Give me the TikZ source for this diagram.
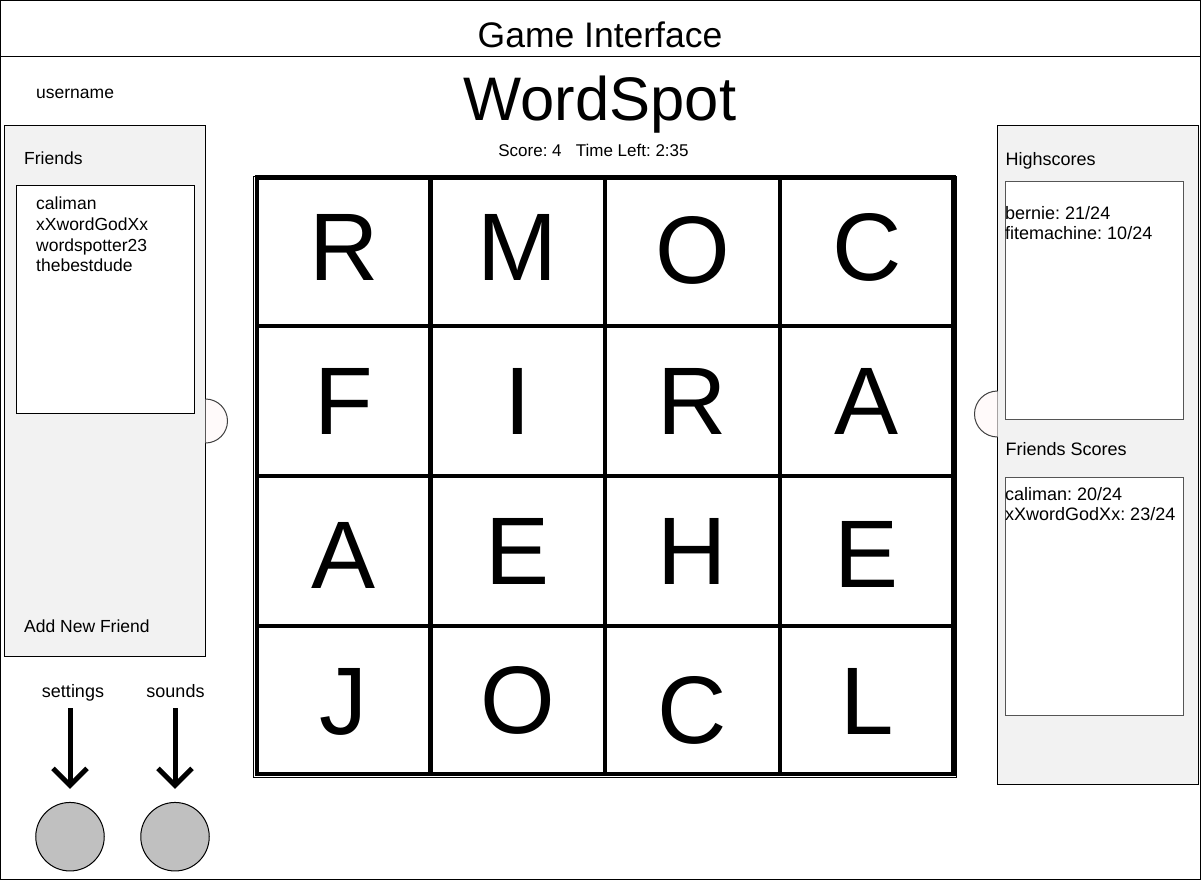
\documentclass[tikz,border=0pt]{standalone}
\usepackage{fontspec}
\setmainfont{Liberation Sans}
\usetikzlibrary{arrows.meta}
\definecolor{panelgray}{HTML}{F2F2F2}
\definecolor{btngray}{HTML}{C0C0C0}
\definecolor{tabfill}{HTML}{FFFAFA}
\definecolor{tabline}{HTML}{404040}
\definecolor{boxline}{HTML}{555555}
\tikzset{
  lbl/.style={font=\fontsize{17.5}{20}\selectfont, inner sep=0pt, anchor=base west},
  lblr/.style={font=\fontsize{18}{21}\selectfont, inner sep=0pt, anchor=base west},
  lblc/.style={font=\fontsize{18}{21}\selectfont, inner sep=0pt, anchor=base},
  frameline/.style={draw=black, line width=1pt},
  panel/.style={draw=black, fill=panelgray, line width=1pt},
  listbox/.style={draw=black, fill=white, line width=1pt},
  listboxr/.style={draw=boxline, fill=white, line width=1pt},
  cellline/.style={draw=black, line width=4.5pt},
  letter/.style={font=\fontsize{96}{110}\selectfont, inner sep=0pt, anchor=base},
  btn/.style={circle, draw=black, fill=btngray, minimum size=68.5pt, inner sep=0pt, line width=1pt},
  arrshaft/.style={draw=black, line width=5pt},
  arrhead/.style={draw=black, line width=5pt, line join=miter},
  tabshape/.style={draw=tabline, line width=1pt},
}
\begin{document}
\frenchspacing
\begin{tikzpicture}[x=1pt,y=-1pt]
\useasboundingbox (0,0) rectangle (1201,880);
\fill[white] (0,0) rectangle (1201,880);
% outer frame and header
\draw[frameline] (0.5,0.5) rectangle (1200.5,879.5);
\draw[frameline] (0.5,57) -- (1200.5,57);
\node[font=\fontsize{35.5}{40}\selectfont, inner sep=0pt, anchor=base] (title) at (600,47.3) {Game Interface};

% header texts
\node[lbl] (username) at (36,98.5) {username};
\node[font=\fontsize{61.5}{68}\selectfont, inner sep=0pt, anchor=base] (wordspot) at (600,120.5) {WordSpot};
\node[font=\fontsize{17}{20}\selectfont, inner sep=0pt, anchor=base] (score) at (593.5,156.7) {Score: 4\ \ \ Time Left: 2:35};

% left panel
\draw[panel] (4.5,125.5) rectangle (205.5,656);
\fill[tabfill] (205.5,399) arc[start angle=90,end angle=-90,radius=22pt] -- cycle;
\draw[tabshape] (205.5,399) arc[start angle=90,end angle=-90,radius=22pt];
\node[lbl] (friends) at (24,164) {Friends};
\draw[listbox] (16.5,185.5) rectangle (194.5,413);
\node[lbl] (f1) at (36,209.3) {caliman};
\node[lbl] (f2) at (36,230.2) {xXwordGodXx};
\node[lbl] (f3) at (36,251) {wordspotter23};
\node[lbl] (f4) at (36,271.8) {thebestdude};
\node[lbl] (addfriend) at (24,632.7) {Add New Friend};

% settings / sounds
\node[lblc] (settings) at (73,697.7) {settings};
\node[lblc] (sounds) at (175.5,697.7) {sounds};
\node[btn] (setbtn) at (70,836.7) {};
\node[btn] (sndbtn) at (175,836.7) {};
\coordinate (setstart) at (70,708);
\coordinate (sndstart) at (175,708);
\coordinate (settip) at ([yshift=16.5pt]setbtn.north);
\coordinate (sndtip) at ([yshift=16.5pt]sndbtn.north);
\draw[arrshaft] (setstart) -- ([yshift=3pt]settip);
\draw[arrhead] ([shift={(-17,-17)}]settip) -- (settip) -- ([shift={(17,-17)}]settip);
\draw[arrshaft] (sndstart) -- ([yshift=3pt]sndtip);
\draw[arrhead] ([shift={(-17,-17)}]sndtip) -- (sndtip) -- ([shift={(17,-17)}]sndtip);

% right panel
\draw[panel] (997.5,125.5) rectangle (1198,784);
\fill[tabfill] (997.5,391) arc[start angle=90,end angle=270,radius=23pt] -- cycle;
\draw[tabshape] (997.5,391) arc[start angle=90,end angle=270,radius=23pt];
\node[lblr] (highscores) at (1005.5,165) {Highscores};
\draw[listboxr] (1005.5,181.5) rectangle (1183.5,419.5);
\node[lblr] (h1) at (1005,219.3) {bernie: 21/24};
\node[lblr] (h2) at (1005,239.6) {fitemachine: 10/24};
\node[lblr] (friendscores) at (1005.5,455) {Friends Scores};
\draw[listboxr] (1005.5,477.5) rectangle (1183.5,715.5);
\node[lblr] (s1) at (1005,500.7) {caliman: 20/24};
\node[lblr] (s2) at (1005,520.9) {xXwordGodXx: 23/24};

% letter grid
\draw[frameline] (253.5,176.5) rectangle (956,777);
\foreach \xa/\xb in {257/430.5, 430.5/605, 605/780, 780/953.7}{
  \foreach \ya/\yb in {177.5/326, 326/476, 476/626, 626/774}{
    \draw[cellline] (\xa,\ya) rectangle (\xb,\yb);
  }
}
\foreach \ch/\cx/\by/\nm in {
  R/343.75/280/g11, M/517.75/280/g12, O/692.5/283.5/g13, C/866.85/280/g14,
  F/343.75/434/g21, I/517.75/434/g22, R/692.5/434/g23, A/866.85/434/g24,
  A/343.75/588/g31, E/517.75/584/g32, H/692.5/584/g33, E/866.85/587/g34,
  J/343.75/734/g41, O/517.75/733/g42, C/692.5/743/g43, L/866.85/734/g44}{
  \node[letter] (\nm) at (\cx,\by) {\ch};
}
\end{tikzpicture}
\end{document}
